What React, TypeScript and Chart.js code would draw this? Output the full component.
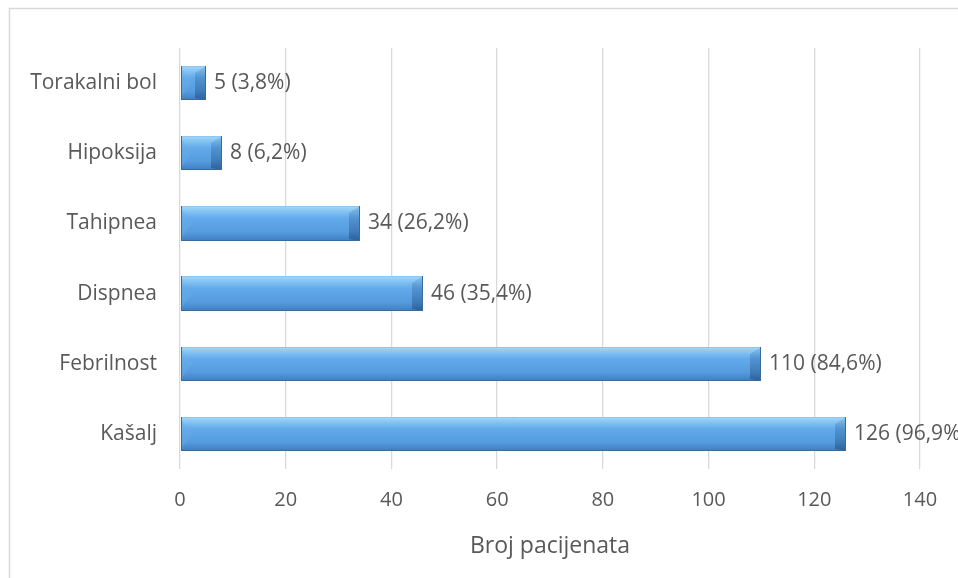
import React, { useEffect, useRef } from "react";
import { Chart, registerables } from "chart.js";

Chart.register(...registerables);

const categories = ["Torakalni bol", "Hipoksija", "Tahipnea", "Dispnea", "Febrilnost", "Kašalj"];
const patients = [5, 8, 34, 46, 110, 126];
const percents = ["3,8", "6,2", "26,2", "35,4", "84,6", "96,9"];
const xTicks = [0, 20, 40, 60, 80, 100, 120, 140];
const axisTitle = "Broj pacijenata";

const FONT = "'Open Sans', 'DejaVu Sans', sans-serif";
const TEXT = "#595959";

const framePlugin = {
  id: "frame",
  beforeDraw(chart: any) {
    const ctx = chart.ctx;
    ctx.save();
    ctx.fillStyle = "#ffffff";
    ctx.fillRect(0, 0, chart.width, chart.height);
    ctx.strokeStyle = "#D9D9D9";
    ctx.lineWidth = 1.5;
    ctx.strokeRect(9.5, 8.5, chart.width + 20, chart.height + 20);
    ctx.restore();
  },
};

const bevelPlugin = {
  id: "bevel",
  afterDatasetsDraw(chart: any) {
    const ctx = chart.ctx;
    const meta = chart.getDatasetMeta(0);
    ctx.save();
    meta.data.forEach((bar: any, i: number) => {
      const x0 = Math.round(bar.base);
      const x1 = Math.round(bar.x);
      const y0 = Math.round(bar.y - bar.height / 2);
      const y1 = Math.round(bar.y + bar.height / 2);
      const w = x1 - x0;
      const h = y1 - y0;
      const b = Math.min(11, w / 2);
      const bv = Math.min(7, h / 2);
      const ym = (y0 + y1) / 2;
      // body gradient
      const g = ctx.createLinearGradient(0, y0, 0, y1);
      g.addColorStop(0, "#A6D8F8");
      g.addColorStop(0.14, "#86C6F3");
      g.addColorStop(0.35, "#62AAEB");
      g.addColorStop(0.75, "#559BDD");
      g.addColorStop(1, "#3E7EC1");
      ctx.fillStyle = g;
      ctx.fillRect(x0, y0, w, h);
      // right face
      const gr = ctx.createLinearGradient(0, y0, 0, y1);
      gr.addColorStop(0, "rgba(40,90,150,0.15)");
      gr.addColorStop(1, "rgba(20,60,110,0.45)");
      ctx.fillStyle = gr;
      ctx.beginPath();
      ctx.moveTo(x1, y0);
      ctx.lineTo(x1, y1);
      ctx.lineTo(x1 - b, y1 - 2);
      ctx.lineTo(x1 - b, y0 + bv);
      ctx.closePath();
      ctx.fill();
      // left face (triangle)
      ctx.fillStyle = "rgba(110,175,235,0.35)";
      ctx.beginPath();
      ctx.moveTo(x0, y0 + 2);
      ctx.lineTo(x0 + b, ym);
      ctx.lineTo(x0, y1 - 2);
      ctx.closePath();
      ctx.fill();
      // outline
      ctx.strokeStyle = "#3A6A9C";
      ctx.lineWidth = 1;
      ctx.strokeRect(x0 + 0.5, y0 + 0.5, w - 1, h - 1);
      ctx.strokeStyle = "#8EC8F0";
      ctx.beginPath();
      ctx.moveTo(x0 + 1, y0 + 0.5);
      ctx.lineTo(x1 - 1, y0 + 0.5);
      ctx.stroke();
      // value label
      ctx.fillStyle = TEXT;
      ctx.font = `21px ${FONT}`;
      ctx.textAlign = "left";
      ctx.textBaseline = "middle";
      ctx.fillText(`${patients[i]} (${percents[i]}%)`, x1 + 8, bar.y);
    });
    ctx.restore();
  },
};

export default function App() {
  const ref = useRef<HTMLCanvasElement | null>(null);

  useEffect(() => {
    if (!ref.current) return;
    const chart = new Chart(ref.current, {
      type: "bar",
      data: {
        labels: categories,
        datasets: [
          {
            data: patients,
            backgroundColor: "rgba(0,0,0,0)",
            borderWidth: 0,
            barPercentage: 0.98,
            categoryPercentage: 0.5,
          },
        ],
      },
      options: {
        indexAxis: "y",
        animation: false,
        responsive: false,
        maintainAspectRatio: false,
        layout: { padding: { left: 0, right: 38, top: 48, bottom: 0 } },
        plugins: {
          legend: { display: false },
          tooltip: { enabled: false },
        },
        scales: {
          x: {
            min: 0,
            max: 140,
            afterBuildTicks(scale: any) {
              scale.ticks = xTicks.map((v) => ({ value: v }));
            },
            afterFit(scale: any) {
              scale.height = 109;
            },
            grid: { color: "#D9D9D9", lineWidth: 1.3, drawTicks: false },
            border: { display: false },
            ticks: {
              color: TEXT,
              font: { family: FONT, size: 20 },
              padding: 19,
            },
            title: {
              display: true,
              text: axisTitle,
              color: TEXT,
              font: { family: FONT, size: 23 },
              padding: { top: 10, bottom: 18 },
            },
          },
          y: {
            afterFit(scale: any) {
              scale.width = 180;
            },
            grid: { display: false, drawTicks: false },
            border: { display: false },
            ticks: {
              color: TEXT,
              font: { family: FONT, size: 21 },
              padding: 23,
            },
          },
        },
      },
      plugins: [framePlugin, bevelPlugin],
    } as any);
    return () => chart.destroy();
  }, []);

  return (
    <div style={{ position: "fixed", left: 0, top: 0, width: 958, height: 578 }}>
      <canvas ref={ref} width={958} height={578} style={{ display: "block" }} />
    </div>
  );
}
